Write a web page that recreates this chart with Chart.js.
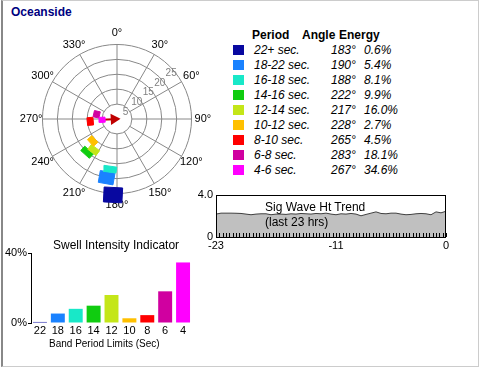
<!DOCTYPE html>
<html>
<head>
<meta charset="utf-8">
<script src="https://cdn.jsdelivr.net/npm/chart.js@4/dist/chart.umd.min.js"></script>
<style>
    body { margin: 0; width: 481px; height: 368px; background: #fff; overflow: hidden;
           font-family: "Liberation Sans", Arial, sans-serif; }
    .panel { position: absolute; left: 1px; top: 0; width: 478px; height: 367px; box-sizing: border-box;
             border-left: 2px solid #888; border-top: 1px solid #ccc; border-right: 1px solid #ccc; border-bottom: 1px solid #ccc; }
    canvas { position: absolute; }
    .txt { position: absolute; white-space: nowrap; line-height: 14px; font-size: 12px; color: #000; }
    .title { left: 11px; top: 5px; font-weight: bold; color: #000080; font-size: 12px; }
    .swatch { position: absolute; width: 11px; height: 10px; }
</style>
</head>
<body>
<div class="panel"></div>
<div class="txt title">Oceanside</div>

<canvas id="polar" width="230" height="230" style="left:2px; top:4px;"></canvas>
<div id="legendTable"></div>

<canvas id="trend" width="260" height="68" style="left:196px; top:185px;"></canvas>
<div class="txt" style="left:265px; top:200px;">Sig Wave Ht Trend</div>
<div class="txt" style="left:265px; top:215px;">(last 23 hrs)</div>

<canvas id="bars" width="200" height="115" style="left:0; top:240px;"></canvas>
<div class="txt" style="left:53px; top:238px;">Swell Intensity Indicator</div>
<div class="txt" style="left:49px; top:337px; font-size:10px;">Band Period Limits (Sec)</div>

<script>
// ==============================
//  DATA
// ==============================
const bandPeriods = ["22+ sec.", "18-22 sec.", "16-18 sec.", "14-16 sec.", "12-14 sec.", "10-12 sec.", "8-10 sec.", "6-8 sec.", "4-6 sec."];
const bandAngles = [183, 190, 188, 222, 217, 228, 265, 283, 267];
const bandEnergy = [0.6, 5.4, 8.1, 9.9, 16.0, 2.7, 4.5, 18.1, 34.6];
const bandLow = [23, 18, 16, 14, 12, 10, 8, 6, 4];
const bandHigh = [28, 22, 18, 16, 14, 12, 10, 8, 6];
const bandLimitLabels = ["22", "18", "16", "14", "12", "10", "8", "6", "4"];
const bandColors = ["#0808a0", "#1a82ff", "#18e8c8", "#10cc10", "#c4e618", "#ffc000", "#ff0000", "#d000a0", "#ff00ff"];

const compassLabels = [0, 30, 60, 90, 120, 150, 180, 210, 240, 270, 300, 330];
const ringValues = [5, 10, 15, 20, 25];
const arrowFrom = 267;      // dominant direction (4-6 sec band)

const sigWaveHt = [2.16, 2.25, 2.25, 2.25, 2.24, 2.22, 2.16, 2.10, 2.16, 2.19, 2.19, 2.10,
                   2.16, 2.16, 2.13, 2.19, 2.16, 2.22, 2.19, 2.16, 2.22, 2.19, 2.25, 2.16,
                   2.10, 2.19, 2.16, 2.22, 2.16, 2.00, 2.13, 2.25, 2.37, 2.22, 2.19, 2.25,
                   2.25, 2.16, 2.10, 2.13, 2.19, 2.22, 2.19, 2.10, 2.37, 2.28, 2.43];
const trendStartHr = -23;
const trendStepHr = 0.5;
const trendTickLabels = [-23, -11, 0];
const trendYTicks = [0, 4];
const barYTicks = [0, 40];

const FONT = "'Liberation Sans', Arial, sans-serif";
Chart.defaults.font.family = FONT;
Chart.defaults.color = "#000";

// ==============================
//  LEGEND TABLE (html)
// ==============================
const table = document.getElementById("legendTable");
const head = [["Period", 252], ["Angle", 302], ["Energy", 339]];
head.forEach(([t, x]) => {
    table.insertAdjacentHTML("beforeend",
        `<div class="txt" style="left:${x}px; top:28px; font-weight:bold;">${t}</div>`);
});
bandPeriods.forEach((p, i) => {
    const cy = 50 + i * 15;
    table.insertAdjacentHTML("beforeend",
        `<div class="swatch" style="left:233px; top:${cy - 5}px; background:${bandColors[i]};"></div>` +
        `<div class="txt" style="left:254px; top:${cy - 7}px; font-style:italic;">${p}</div>` +
        `<div class="txt" style="left:331px; top:${cy - 7}px; font-style:italic;">${bandAngles[i]}°</div>` +
        `<div class="txt" style="left:364px; top:${cy - 7}px; font-style:italic;">${bandEnergy[i].toFixed(1)}%</div>`);
});

// ==============================
//  SWELL ROSE (polar)
// ==============================
const PX_PER_UNIT = 3.16;
const R = 115 / PX_PER_UNIT;
const rad = d => d * Math.PI / 180;

function wedge(i) {
    const a = rad(bandAngles[i]);
    const ux = Math.sin(a), uy = Math.cos(a);
    const px = Math.cos(a), py = -Math.sin(a);
    const rIn = bandLow[i], rOut = bandHigh[i];
    const hw = 0.3 + 0.11 * (rIn + rOut) / 2;
    const corners = [[rIn, -hw], [rOut, -hw], [rOut, hw], [rIn, hw], [rIn, -hw]];
    return {
        type: "line",
        data: corners.map(([r, w]) => ({ x: r * ux + w * px, y: r * uy + w * py })),
        borderColor: bandColors[i],
        backgroundColor: bandColors[i],
        borderWidth: 1,
        pointRadius: 0,
        fill: "shape",
        tension: 0
    };
}

const arrowAng = rad(arrowFrom);
const arrowSet = {
    type: "line",
    data: [5.4, 1.0].map(r => ({ x: r * Math.sin(arrowAng), y: r * Math.cos(arrowAng) })),
    borderColor: "#c00000",
    backgroundColor: "#c00000",
    borderWidth: 2,
    pointRadius: [0, 4.5],
    pointStyle: "triangle",
    pointRotation: arrowFrom - 180,
    fill: false
};

const polarGrid = {
    id: "polarGrid",
    beforeDatasetsDraw(chart) {
        const { ctx, scales: { x, y } } = chart;
        const cx = x.getPixelForValue(0), cy = y.getPixelForValue(0);
        const toPx = (r, deg) => [x.getPixelForValue(r * Math.sin(rad(deg))), y.getPixelForValue(r * Math.cos(rad(deg)))];
        const inner = ringValues[0], outer = ringValues[ringValues.length - 1];
        ctx.save();
        ctx.strokeStyle = "#888";
        ctx.lineWidth = 1;
        ringValues.forEach(v => {
            ctx.beginPath();
            ctx.arc(cx, cy, x.getPixelForValue(v) - cx, 0, 2 * Math.PI);
            ctx.stroke();
        });
        compassLabels.forEach(d => {
            const [x1, y1] = toPx(inner, d), [x2, y2] = toPx(outer, d);
            ctx.beginPath(); ctx.moveTo(x1, y1); ctx.lineTo(x2, y2); ctx.stroke();
        });
        ctx.textAlign = "center";
        ctx.textBaseline = "middle";
        ctx.fillStyle = "#000";
        ctx.font = "11px " + FONT;
        compassLabels.forEach(d => {
            const [lx, ly] = toPx(28.8, d);
            ctx.fillText(d + "°", lx, ly);
        });
        ctx.fillStyle = "#808080";
        ctx.font = "10px " + FONT;
        ringValues.forEach(v => {
            const [lx, ly] = toPx(v - 1.3, 50);
            ctx.fillText(String(v), lx, ly);
        });
        ctx.restore();
    }
};

new Chart(document.getElementById("polar"), {
    type: "scatter",
    data: { datasets: [...bandPeriods.map((p, i) => wedge(i)).reverse(), arrowSet] },
    options: {
        responsive: false,
        animation: false,
        layout: { padding: 0 },
        plugins: { legend: { display: false }, tooltip: { enabled: false } },
        scales: {
            x: { type: "linear", display: false, min: -R, max: R },
            y: { type: "linear", display: false, min: -R, max: R }
        }
    },
    plugins: [polarGrid]
});

// ==============================
//  SIG WAVE HT TREND
// ==============================
const trendFrame = {
    id: "trendFrame",
    afterDraw(chart) {
        const { ctx, chartArea: a, scales: { x } } = chart;
        ctx.save();
        ctx.strokeStyle = "#000";
        ctx.lineWidth = 1;
        ctx.beginPath();
        x.ticks.forEach(t => {
            const px = Math.round(x.getPixelForValue(t.value)) + 0.5;
            ctx.moveTo(px, a.bottom);
            ctx.lineTo(px, a.bottom - 4);
        });
        ctx.stroke();
        ctx.strokeRect(Math.round(a.left) + 0.5, Math.round(a.top) + 0.5,
                       Math.round(a.right - a.left) - 1, Math.round(a.bottom - a.top));
        ctx.restore();
    }
};

new Chart(document.getElementById("trend"), {
    type: "line",
    data: {
        datasets: [{
            data: sigWaveHt.map((v, i) => ({ x: trendStartHr + i * trendStepHr, y: v })),
            borderColor: "#404040",
            borderWidth: 1,
            backgroundColor: "#c0c0c0",
            fill: "origin",
            pointRadius: 0,
            tension: 0
        }]
    },
    options: {
        responsive: false,
        animation: false,
        layout: { padding: { top: 8, right: 10, left: 0, bottom: 0 } },
        plugins: { legend: { display: false }, tooltip: { enabled: false } },
        scales: {
            x: {
                type: "linear", min: -23, max: 0,
                grid: { display: false, drawTicks: false }, border: { display: false },
                afterBuildTicks: s => {
                    const ticks = [];
                    for (let k = 0; k <= 69; k++) ticks.push({ value: -23 + k / 3 });
                    s.ticks = ticks;
                },
                ticks: {
                    autoSkip: false, maxRotation: 0, padding: 2, font: { size: 11 },
                    callback: v => {
                        const hit = trendTickLabels.find(t => Math.abs(t - v) < 1e-6);
                        return hit === undefined ? "" : String(hit);
                    }
                },
                afterFit: s => { s.height = 16; }
            },
            y: {
                min: 0, max: 4,
                grid: { display: false, drawTicks: false }, border: { display: false },
                afterBuildTicks: s => { s.ticks = trendYTicks.map(v => ({ value: v })); },
                ticks: { padding: 3, font: { size: 11 }, callback: v => v === 0 ? "0" : v.toFixed(1) },
                afterFit: s => { s.width = 20; }
            }
        }
    },
    plugins: [trendFrame]
});

// ==============================
//  SWELL INTENSITY BARS
// ==============================
new Chart(document.getElementById("bars"), {
    type: "bar",
    data: {
        labels: bandLimitLabels,
        datasets: [{
            data: bandEnergy,
            backgroundColor: bandColors,
            categoryPercentage: 1,
            barPercentage: 0.78
        }]
    },
    options: {
        responsive: false,
        animation: false,
        layout: { padding: { top: 13, right: 8, left: 0, bottom: 0 } },
        plugins: { legend: { display: false }, tooltip: { enabled: false } },
        scales: {
            x: {
                grid: { display: false, drawTicks: false }, border: { display: false },
                ticks: { padding: 1, maxRotation: 0, font: { size: 11 } },
                afterFit: s => { s.height = 32; }
            },
            y: {
                min: 0, max: 40,
                afterBuildTicks: s => { s.ticks = barYTicks.map(v => ({ value: v })); },
                grid: { drawOnChartArea: false, tickLength: 3, color: "#000" },
                border: { display: true, color: "#000" },
                ticks: { padding: 1, font: { size: 11 }, callback: v => v + "%" },
                afterFit: s => { s.width = 31; }
            }
        }
    }
});
</script>
</body>
</html>
